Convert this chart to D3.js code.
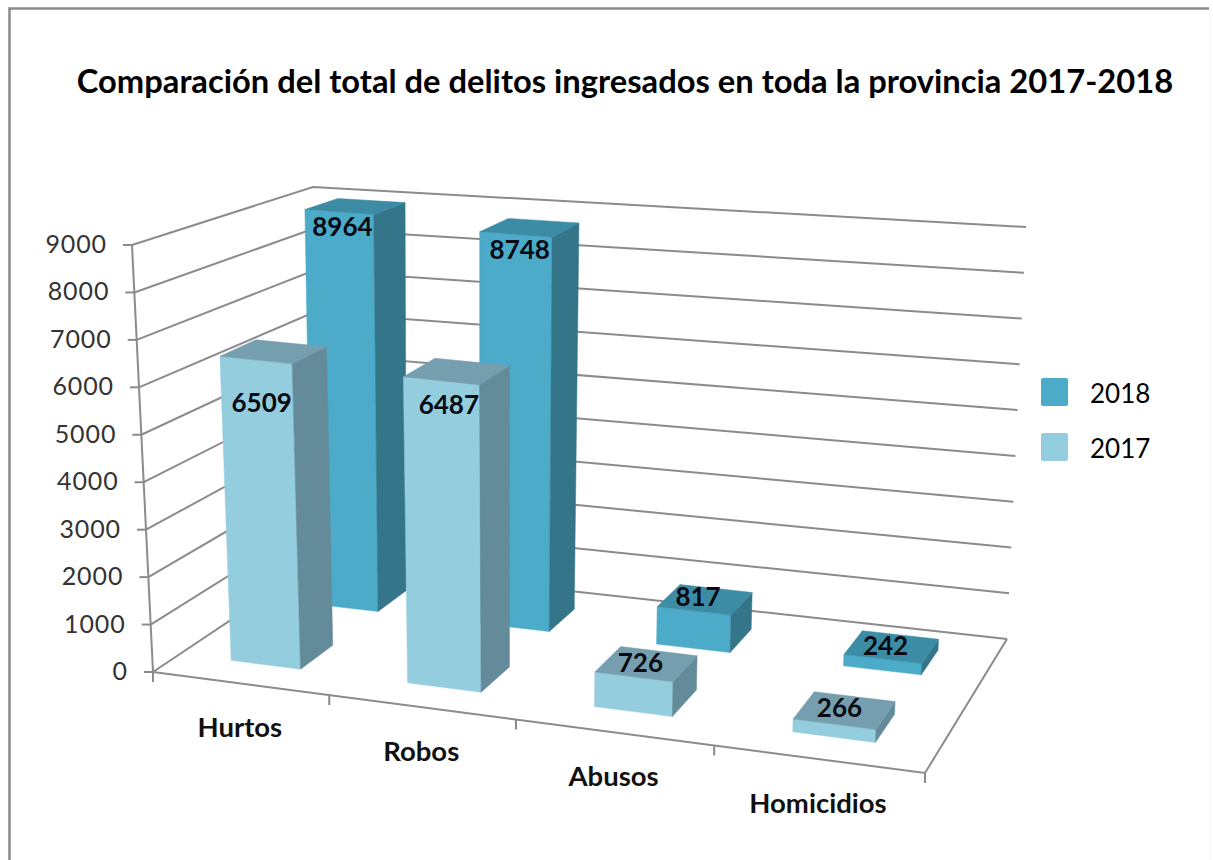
<!DOCTYPE html>
<html>
<head>
<meta charset="utf-8">
<script src="https://d3js.org/d3.v7.min.js"></script>
<style>
html,body{margin:0;padding:0;background:#fff;}
svg{display:block;}
text{font-family:Lato,"Open Sans",sans-serif;}
</style>
</head>
<body>
<div id="chart"></div>
<script>
var chartTitle="Comparación del total de delitos ingresados en toda la provincia 2017-2018";
var categories=["Hurtos","Robos","Abusos","Homicidios"];
var seriesNames=["2017","2018"];
var values2017=[6509,6487,726,266];
var values2018=[8964,8748,817,242];
var yTicks=[0,1000,2000,3000,4000,5000,6000,7000,8000,9000];

var width=1213,height=860;

// picture corners of the chart box: [front-left, front-right, back-right, back-left]
var floorQuad=[[153,672],[925,773],[1007,639],[316,563]];
var topQuad=[[132,245],[945,333],[1026,227],[313,187]];

var colors={
	"2017":{front:"#93cdde",side:"#648b9a",top:"#759fae"},
	"2018":{front:"#4babc8",side:"#34758a",top:"#3c8ca5"}
};

// unit square -> quad
function makeHomography(q){
	var dx1=q[1][0]-q[2][0],dx2=q[3][0]-q[2][0],sx=q[0][0]-q[1][0]+q[2][0]-q[3][0];
	var dy1=q[1][1]-q[2][1],dy2=q[3][1]-q[2][1],sy=q[0][1]-q[1][1]+q[2][1]-q[3][1];
	var den=dx1*dy2-dx2*dy1;
	var g=(sx*dy2-dx2*sy)/den,h=(dx1*sy-sx*dy1)/den;
	var a=q[1][0]-q[0][0]+g*q[1][0],b=q[3][0]-q[0][0]+h*q[3][0],c=q[0][0];
	var d=q[1][1]-q[0][1]+g*q[1][1],e=q[3][1]-q[0][1]+h*q[3][1],f=q[0][1];
	return function(u,w){
		var k=g*u+h*w+1;
		return [(a*u+b*w+c)/k,(d*u+e*w+f)/k];
	};
}
var floorH=makeHomography(floorQuad);

var xScale=d3.scaleBand().domain(categories).range([0,1]).paddingInner(0.6).paddingOuter(0.3);
var yScale=d3.scaleLinear().domain([0,9000]).range([0,1]);
var zScale=d3.scaleBand().domain(seriesNames).range([0,1]).paddingInner(0.6).paddingOuter(0.3);
var xEdge=d3.scaleBand().domain(categories).range([0,1]);

// height vector at a floor point, blended from the four corners
function rise(i,u,w){
	var o=topQuad.map(function(t,k){return t[i]-floorQuad[k][i];});
	return (o[0]*(1-u)+o[1]*u)*(1-w)+(o[3]*(1-u)+o[2]*u)*w;
}
function project(u,v,w){
	var a=floorH(u,w);
	return [a[0]+rise(0,u,w)*v,a[1]+rise(1,u,w)*v];
}

var svg=d3.select("#chart").append("svg").attr("width",width).attr("height",height);
var defs=svg.append("defs");
defs.append("filter").attr("id","soft").append("feGaussianBlur").attr("stdDeviation",0.5);

// frame of the pasted picture
svg.append("path").attr("d","M9.5,860V8.5H1209").attr("fill","none").attr("stroke","#8a8a8a").attr("stroke-width",2.5);
svg.append("line").attr("x1",1210).attr("x2",1210).attr("y1",8).attr("y2",860).attr("stroke","#f0f0f0");

svg.append("text")
	.attr("x",625).attr("y",93)
	.attr("text-anchor","middle")
	.attr("font-size",32.7).attr("font-weight",700).attr("fill","#000")
	.text(chartTitle);

var g=svg.append("g").attr("filter","url(#soft)");
var line=d3.line();
var gridColor="#8b8b8b";

//walls and gridlines
yTicks.forEach(function(t){
	var v=yScale(t);
	g.append("path")
		.attr("d",line([project(0,v,0),project(0,v,1),project(1,v,1)]))
		.attr("fill","none").attr("stroke",gridColor).attr("stroke-width",2);
	var p=project(0,v,0);
	g.append("line").attr("x1",p[0]-9).attr("x2",p[0]).attr("y1",p[1]).attr("y2",p[1])
		.attr("stroke",gridColor).attr("stroke-width",2);
	svg.append("text")
		.attr("x",p[0]-25).attr("y",p[1]+8)
		.attr("text-anchor","end")
		.attr("font-size",25).attr("letter-spacing",0.9).attr("fill","#333")
		.text(t);
});

//floor + y axis
g.append("path").attr("d",line([project(0,0,0),project(1,0,0),project(1,0,1)]))
	.attr("fill","none").attr("stroke",gridColor).attr("stroke-width",2);
g.append("path").attr("d",line([project(0,1,0),project(0,0,0)]))
	.attr("fill","none").attr("stroke",gridColor).attr("stroke-width",2);

//category ticks
var edges=[0].concat(categories.map(function(c){return xEdge(c)+xEdge.bandwidth();}));
edges.forEach(function(u){
	var p=project(u,0,0);
	g.append("line").attr("x1",p[0]).attr("x2",p[0]).attr("y1",p[1]).attr("y2",p[1]+10)
		.attr("stroke",gridColor).attr("stroke-width",2);
});

function drawBar(cat,val,name){
	var u0=xScale(cat),u1=u0+xScale.bandwidth();
	var w0=zScale(name),w1=w0+zScale.bandwidth();
	var v=yScale(val),c=colors[name];
	var faces=[
		{pts:[project(u0,0,w0),project(u1,0,w0),project(u1,v,w0),project(u0,v,w0)],fill:c.front},
		{pts:[project(u1,0,w0),project(u1,0,w1),project(u1,v,w1),project(u1,v,w0)],fill:c.side},
		{pts:[project(u0,v,w0),project(u1,v,w0),project(u1,v,w1),project(u0,v,w1)],fill:c.top}
	];
	g.append("g").selectAll("path").data(faces).enter().append("path")
		.attr("d",function(d){return line(d.pts)+"Z";})
		.attr("fill",function(d){return d.fill;})
		.attr("stroke",function(d){return d.fill;})
		.attr("stroke-width",0.5);
}

//back row first, then front row
categories.forEach(function(c,i){ drawBar(c,values2018[i],"2018"); });
categories.forEach(function(c,i){ drawBar(c,values2017[i],"2017"); });

//data labels, nudged from the centre of the top face
var nudge2017=[[-12,52],[-8,34],[-6,-1],[-5,-2]];
var nudge2018=[[-13,21],[-10,23],[-7,-3],[-6,-1]];
function drawLabel(cat,val,name,nudge){
	var u=xScale(cat)+xScale.bandwidth()/2,w=zScale(name)+zScale.bandwidth()/2;
	var p=project(u,yScale(val),w);
	svg.append("text")
		.attr("x",p[0]+nudge[0]).attr("y",p[1]+nudge[1]+9)
		.attr("text-anchor","middle")
		.attr("font-size",26).attr("font-weight",700).attr("fill","#0a0a14")
		.text(val);
}
categories.forEach(function(c,i){
	drawLabel(c,values2018[i],"2018",nudge2018[i]);
	drawLabel(c,values2017[i],"2017",nudge2017[i]);
});

//category labels
categories.forEach(function(c){
	var p=project(xEdge(c)+xEdge.bandwidth()/2,0,0);
	svg.append("text")
		.attr("x",p[0]).attr("y",p[1]+54)
		.attr("text-anchor","middle")
		.attr("font-size",27.5).attr("font-weight",700).attr("fill","#111")
		.text(c);
});

//legend
var legendY=d3.scalePoint().domain(["2018","2017"]).range([392,447]);
legendY.domain().forEach(function(name){
	svg.append("rect")
		.attr("x",1041).attr("y",legendY(name)-14)
		.attr("width",27).attr("height",28).attr("rx",2)
		.attr("fill",colors[name].front);
	svg.append("text")
		.attr("x",1090).attr("y",legendY(name)+11)
		.attr("font-size",26).attr("fill","#000")
		.text(name);
});
</script>
</body>
</html>
